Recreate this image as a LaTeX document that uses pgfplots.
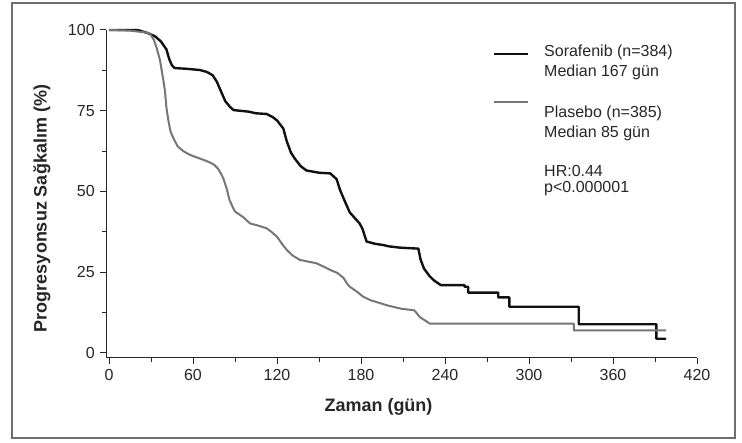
\documentclass[border=0pt]{standalone}
\usepackage{pgfplots}
\pgfplotsset{compat=1.18}
\usepackage{fontspec}
\setmainfont{Liberation Sans}

\definecolor{kmblack}{HTML}{111111}
\definecolor{kmgray}{HTML}{767676}
\definecolor{framegray}{HTML}{6E6E6E}

\begin{document}
\begin{tikzpicture}
% whole picture is 742 x 443 (1px = 1pt)
\useasboundingbox (0,0) rectangle (742pt,443pt);
\draw[framegray, line width=1.6pt] (12pt,5pt) rectangle (735pt,440pt);

\begin{axis}[
    at={(106.2pt,85.2pt)}, anchor=south west,
    scale only axis,
    width=590.8pt, height=327.8pt,
    xmin=-2, xmax=420,
    ymin=-1.5, ymax=100,
    axis lines=left,
    axis line style={-, line width=1.3pt, black!85},
    xtick={0,60,...,420},
    ytick={0,25,50,75,100},
    minor x tick num=1,
    minor y tick num=1,
    tick align=outside,
    tick style={line width=1pt, black!85},
    major tick length=6pt, minor tick length=4pt,
    ticklabel style={font=\fontsize{16}{19}\selectfont, text=black!85},
    /pgf/number format/assume math mode=true,
    xticklabel style={yshift=-2pt},
    yticklabel style={xshift=-2pt},
    clip=false,
]

% Sorafenib
\addplot[kmblack, line width=2.4pt, line join=round] coordinates {
(0,100) (20,100) (22,99.8) (28,99) (33,98) (37,96.5) (41,94) (43,91)
(45,89) (47,88.2) (55,88) (65,87.6) (70,87) (74,86) (77,84) (79,82)
(81,80) (83,78) (86.4,76.2) (89,75.2) (100,74.7) (105,74.2) (112.6,74)
(117,73) (120,72) (124.5,69.5) (127,65.5) (130,62) (133,60) (137,57.8)
(141,56.5) (150,55.8) (158,55.6) (162.6,53.8) (165,50.5) (168.6,46.8)
(172,43.5) (175.7,41.7) (179,40.1) (181,38.5) (184,34.5) (190,33.8)
(196,33.4) (200,33) (208,32.6) (221,32.3) (222.5,29) (225,26.1) (229,23.8)
(232,22.5) (237,21) (254,21) (254,20.5) (256.5,20.5) (256.5,18.7)
(278,18.7) (278,17.2) (286,17.2) (286,14.3) (335.5,14.3) (335.5,8.9)
(391,8.9) (391,4.4) (398,4.4)
};

% Plasebo
\addplot[kmgray, line width=2pt, line join=round] coordinates {
(0,100) (15,99.8) (25,99.3) (29,99) (32,97) (34,94.5) (36.4,90.7)
(38.8,84.5) (40,81) (41,76) (42.4,72) (44,68.5) (46,66.5) (49,64)
(53,62.5) (58,61.3) (63,60.5) (68,59.7) (72,59) (75,58.3) (78,57)
(80,55.5) (81.7,54) (84,51) (86,47.5) (88,45.5) (90,43.8) (96,42)
(100.7,40.1) (106,39.5) (112.6,38.6) (116,37.5) (120,36) (124,33.5)
(127,31.9) (131,30.2) (136.4,28.8) (142,28.3) (148,27.8) (153,26.8)
(158,25.7) (163,24.8) (167.4,23.3) (170,21.5) (172,20.5) (177,19)
(181.6,17.4) (187,16.3) (193,15.5) (199,14.7) (208.6,13.7) (218,13.2)
(220,12.2) (222,11.1) (226,10) (229,9.1) (332,9.1) (332,7) (398,7)
};
\end{axis}

% axis titles
\node[anchor=base, font=\fontsize{18}{21}\selectfont\bfseries, text=black!85]
  at (378.5pt,31pt) {Zaman (gün)};
\node[anchor=base, rotate=90, font=\fontsize{18}{21}\selectfont\bfseries, text=black!85]
  at (46.5pt,234.5pt) {Progresyonsuz Sağkalım (\%)};

% legend
\draw[kmblack, line width=2.4pt] (494pt,389pt) -- (528pt,389pt);
\draw[kmgray, line width=2pt] (494pt,341pt) -- (528pt,341pt);
\begin{scope}[every node/.style={anchor=base west, inner sep=0pt,
    font=\fontsize{16}{19}\selectfont, text=black!85}]
\node at (544pt,386pt) {Sorafenib (n=384)};
\node at (544pt,366pt) {Median 167 gün};
\node at (544pt,325pt) {Plasebo (n=385)};
\node at (544pt,305pt) {Median 85 gün};
\node at (544pt,266pt) {HR:0.44};
\node at (544pt,250pt) {p<0.000001};
\end{scope}
\end{tikzpicture}
\end{document}
